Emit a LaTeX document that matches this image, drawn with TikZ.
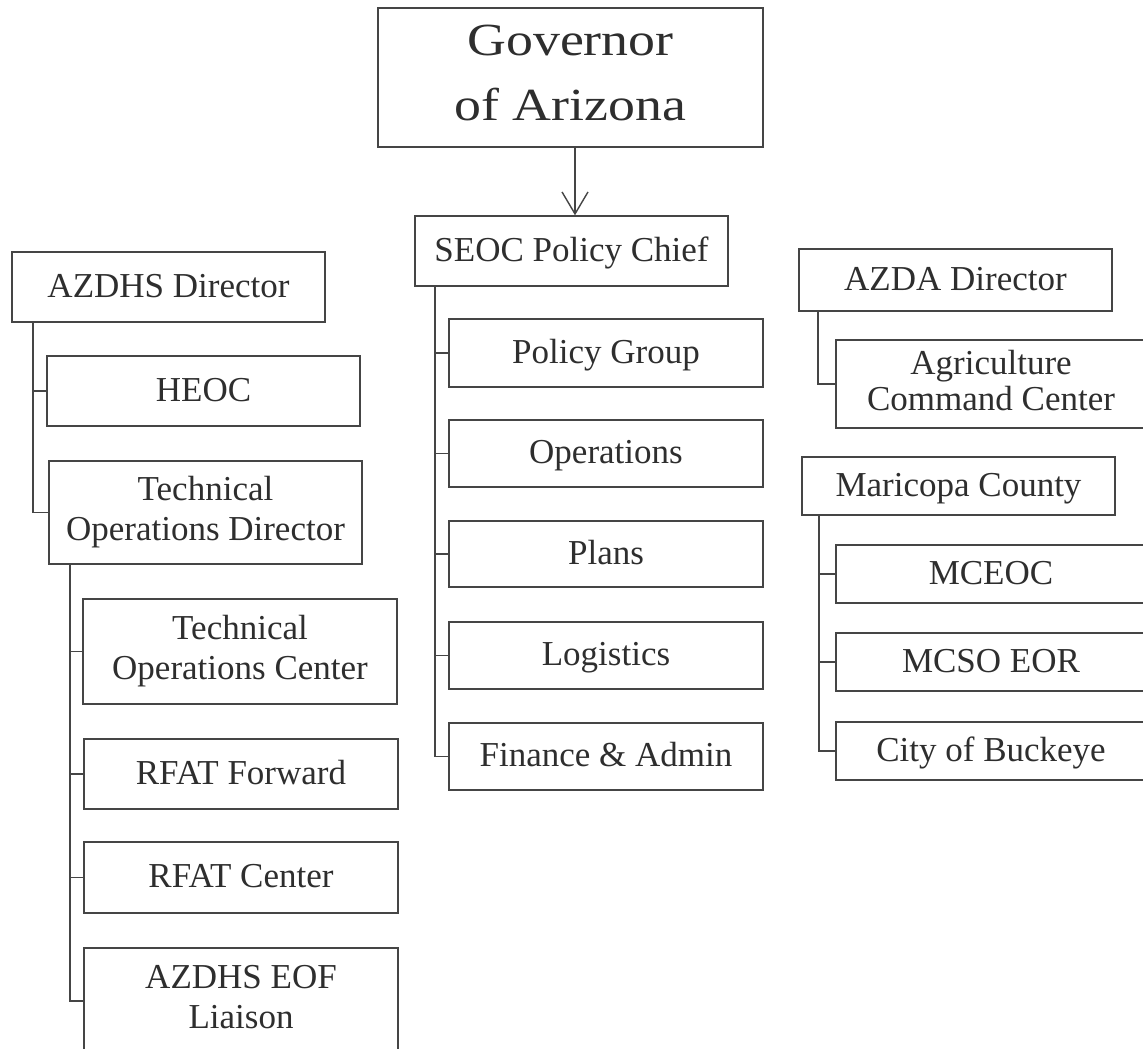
\documentclass[tikz,border=0pt]{standalone}
\usepackage{fontspec}
\setmainfont{Liberation Serif}
\newfontfamily\govfont[FakeStretch=1.17]{Liberation Serif}
\usetikzlibrary{arrows.meta,calc}
\definecolor{ln}{HTML}{454545}
\definecolor{tx}{HTML}{2E2E2E}
\newcommand\sv{\rule[-8pt]{0pt}{36pt}}
\newcommand\gsv{\rule[-10pt]{0pt}{54pt}}
\newcommand\nl{\\\sv}
\begin{document}
\begin{tikzpicture}[x=1pt,y=-1pt,
  box/.style={draw=ln, line width=1.4pt, text=tx, align=center, inner sep=0pt,
              font=\fontsize{35}{40}\selectfont, execute at begin node={\sv}},
  con/.style={draw=ln, line width=1.4pt}]
\useasboundingbox (0,0) rectangle (1143,1049);
\fill[white] (0,0) rectangle (1143,1049);

% top
\node[box, minimum width=385pt, minimum height=139pt, font=\govfont\fontsize{46}{65}\selectfont,
      execute at begin node={\gsv}] (gov) at (570.5,77.5) {Governor\\\gsv of Arizona};
\node[box, minimum width=313pt, minimum height=70pt] (seoc) at (571.5,251) {SEOC Policy Chief};
\coordinate (ax) at (575,0);
\draw[con, -{Straight Barb[length=22pt,width=26pt,line width=1.4pt]}] (gov.south -| ax) -- (seoc.north -| ax);

% left column
\node[box, minimum width=313pt, minimum height=70pt] (azdhs) at (168.5,287) {AZDHS Director};
\node[box, minimum width=313pt, minimum height=70pt] (heoc) at (203.5,391) {HEOC};
\node[box, minimum width=313pt, minimum height=103pt] (tod) at (205.5,512.5) {Technical\nl Operations Director};
\node[box, minimum width=314pt, minimum height=105pt] (toc) at (240,651.5) {Technical\nl Operations Center};
\node[box, minimum width=314pt, minimum height=70pt] (rfwd) at (241,774) {RFAT Forward};
\node[box, minimum width=314pt, minimum height=71pt] (rctr) at (241,877.5) {RFAT Center};
\node[box, minimum width=314pt, minimum height=106pt] (eof) at (241,1001) {AZDHS EOF\nl Liaison};

% centre column
\node[box, minimum width=314pt, minimum height=68pt] (pg) at (606,353) {Policy Group};
\node[box, minimum width=314pt, minimum height=67pt] (ops) at (606,453.5) {Operations};
\node[box, minimum width=314pt, minimum height=66pt] (plans) at (606,554) {Plans};
\node[box, minimum width=314pt, minimum height=67pt] (logi) at (606,655.5) {Logistics};
\node[box, minimum width=314pt, minimum height=67pt] (fin) at (606,756.5) {Finance \& Admin};

% right column
\node[box, minimum width=313pt, minimum height=62pt] (azda) at (955.5,280) {AZDA Director};
\node[box, minimum width=310pt, minimum height=88pt, font=\fontsize{35}{36}\selectfont] (agri) at (991,384) {Agriculture\nl Command Center};
\node[box, minimum width=313pt, minimum height=58pt] (mari) at (958.5,486) {Maricopa County};
\node[box, minimum width=310pt, minimum height=58pt] (mceoc) at (991,574) {MCEOC};
\node[box, minimum width=310pt, minimum height=58pt] (mcso) at (991,662) {MCSO EOR};
\node[box, minimum width=310pt, minimum height=58pt] (buck) at (991,751) {City of Buckeye};

% trunk positions
\coordinate (tA) at (33,0);
\coordinate (tB) at (70,0);
\coordinate (tC) at (435,0);
\coordinate (tD) at (818,0);
\coordinate (tE) at (819,0);

\draw[con] (azdhs.south -| tA) |- (heoc.west);
\draw[con] (azdhs.south -| tA) |- (tod.west);

\draw[con] (tod.south -| tB) |- (toc.west);
\draw[con] (tod.south -| tB) |- (rfwd.west);
\draw[con] (tod.south -| tB) |- (rctr.west);
\draw[con] (tod.south -| tB) |- (eof.west);

\draw[con] (seoc.south -| tC) |- (pg.west);
\draw[con] (seoc.south -| tC) |- (ops.west);
\draw[con] (seoc.south -| tC) |- (plans.west);
\draw[con] (seoc.south -| tC) |- (logi.west);
\draw[con] (seoc.south -| tC) |- (fin.west);

\draw[con] (azda.south -| tD) |- (agri.west);

\draw[con] (mari.south -| tE) |- (mceoc.west);
\draw[con] (mari.south -| tE) |- (mcso.west);
\draw[con] (mari.south -| tE) |- (buck.west);
\end{tikzpicture}
\end{document}
